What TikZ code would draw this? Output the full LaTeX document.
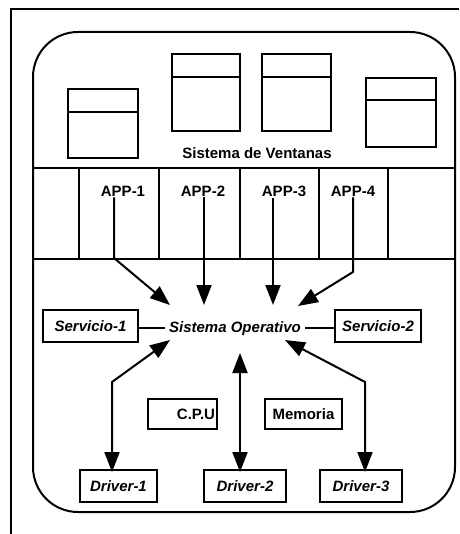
\documentclass[tikz,border=0pt]{standalone}
\usepackage{fontspec}
\setmainfont{Liberation Sans}
\usetikzlibrary{arrows.meta,positioning}

\begin{document}
\begin{tikzpicture}[x=1pt,y=-1pt,line width=2pt,
	font=\fontsize{15}{17}\selectfont\bfseries]
	\tikzset{caja/.style={draw,minimum height=32pt,inner sep=2pt},
		etiq/.style={font=\fontsize{15}{17}\selectfont\bfseries\itshape},
		flecha/.style={-{Triangle[length=20pt,width=15pt]}},
		dflecha/.style={{Triangle[length=20pt,width=15pt]}-{Triangle[length=20pt,width=15pt]}}}
	\useasboundingbox (0,0) rectangle (459,534);

	%% marco y pantalla
	\draw (11,534) -- (11,9) -- (459,9);
	\draw[rounded corners=45pt] (33,32) rectangle (455,512);
	\draw (33,168) -- (455,168);
	\draw (33,259) -- (455,259);
	\foreach \x in {79,159,240,319,388}
		\draw (\x,168) -- (\x,259);

	%% ventanas
	\foreach \x/\y/\w/\h/\t in {68/89/70/69/23,172/54/68/77/23,262/54/69/77/23,366/78/70/69/22} {
		\draw (\x,\y) rectangle ++(\w,\h);
		\draw (\x,\y+\t) -- ++(\w,0);
	}
	\node[anchor=base] (ventanas) at (257,159) {Sistema de Ventanas};

	%% aplicaciones
	\node[anchor=base] (app1) at (123,197) {APP-1};
	\node[anchor=base] (app2) at (203,197) {APP-2};
	\node[anchor=base] (app3) at (284,197) {APP-3};
	\node[anchor=base] (app4) at (353,197) {APP-4};

	%% sistema operativo y servicios
	\node[etiq,anchor=base] (so) at (235,332) {Sistema Operativo};
	\node[caja,etiq,minimum width=95pt] (serv1) at (90.5,326) {Servicio-1};
	\node[caja,etiq,minimum width=86pt] (serv2) at (378,326) {Servicio-2};
	\draw (so.west) -- (so.west -| serv1.east);
	\draw (so.east) -- (so.east -| serv2.west);

	\node[caja,text width=65pt,align=right,minimum height=30pt] (cpu) at (182.5,414) {C.P.U};
	\node[caja,minimum width=77pt,minimum height=30pt] (mem) at (303.5,414) {Memoria};

	\node[caja,etiq,minimum width=77pt] (drv1) at (118.5,486) {Driver-1};
	\node[caja,etiq,minimum width=82pt] (drv2) at (245,486) {Driver-2};
	\node[caja,etiq,minimum width=82pt] (drv3) at (361,486) {Driver-3};

	%% puntos de las flechas
	\coordinate (t1) at (170,305);
	\coordinate (t2) at (204,305);
	\coordinate (t3) at (273,305);
	\coordinate (t4) at (298,306);
	\coordinate (b1) at (114,258);
	\coordinate (b4) at (353,272);
	\coordinate (u1) at (170,340);
	\coordinate (u2) at (240,353);
	\coordinate (u3) at (285,340);
	\coordinate (c1) at (112,382);
	\coordinate (c3) at (365,382);

	\draw[flecha] ([yshift=4pt]b1 |- app1.south) -- (b1) -- (t1);
	\draw[flecha] ([yshift=4pt]t2 |- app2.south) -- (t2);
	\draw[flecha] ([yshift=4pt]t3 |- app3.south) -- (t3);
	\draw[flecha] ([yshift=4pt]b4 |- app4.south) -- (b4) -- (t4);

	\draw[dflecha] (u1) -- (c1) -- ([yshift=-3pt]c1 |- drv1.north);
	\draw[dflecha] (u2) -- ([yshift=-3pt]u2 |- drv2.north);
	\draw[dflecha] (u3) -- (c3) -- ([yshift=-3pt]c3 |- drv3.north);
\end{tikzpicture}
\end{document}
